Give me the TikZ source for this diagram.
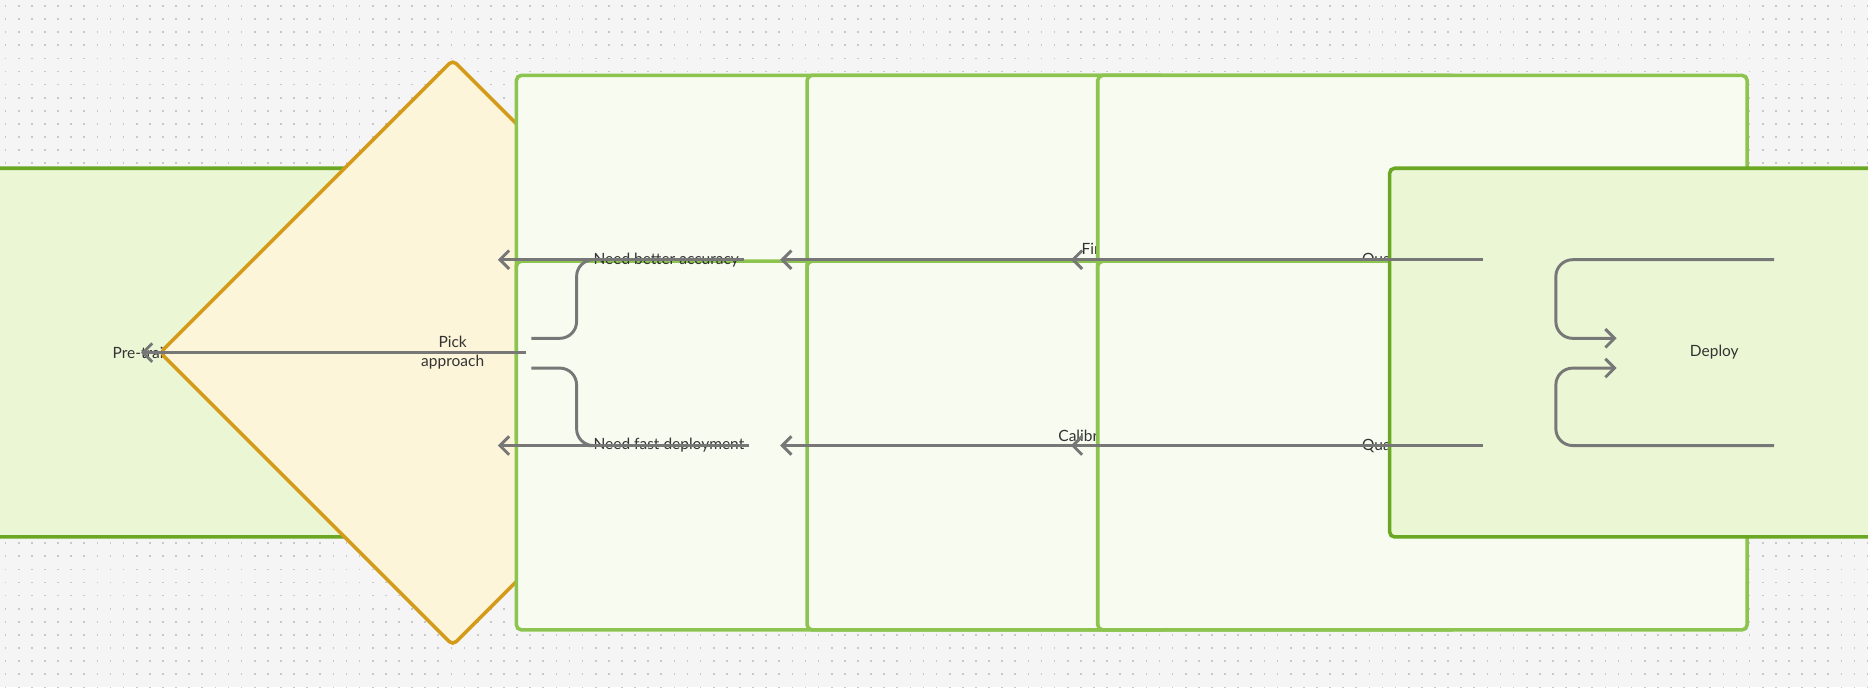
\documentclass[tikz,border=0pt]{standalone}
\usepackage{fontspec}
\setmainfont{Lato}
\usetikzlibrary{positioning,shapes.geometric,arrows.meta}

\definecolor{bgcol}{HTML}{F5F5F5}
\definecolor{dotcol}{HTML}{C8C8C8}
\definecolor{endfill}{HTML}{EBF7D4}
\definecolor{enddraw}{HTML}{6AA722}
\definecolor{stepfill}{HTML}{F7FBF0}
\definecolor{stepdraw}{HTML}{8DC450}
\definecolor{pickfill}{HTML}{FDF5D9}
\definecolor{pickdraw}{HTML}{D49B1A}
\definecolor{linkcol}{HTML}{777777}

\tikzset{
    base/.style={font=\fontsize{3.7}{4.6}\selectfont, text=black!80, align=center},
    endbox/.style={base, rectangle, rounded corners=1.2pt, fill=endfill, draw=enddraw, line width=0.85pt, minimum width=155, minimum height=88},
    stepbox/.style={base, rectangle, rounded corners=1.2pt, fill=stepfill, draw=stepdraw, line width=0.85pt, minimum width=155, minimum height=88},
    pick/.style={base, diamond, rounded corners=1.2pt, fill=pickfill, draw=pickdraw, line width=0.85pt, minimum width=140, minimum height=140, inner sep=0pt},
    link/.style={draw=linkcol, line width=0.7pt, rounded corners=4pt, -{Straight Barb[length=2.2pt, width=4.4pt, line width=0.7pt]}},
    wire/.style={draw=linkcol, line width=0.7pt, rounded corners=4pt},
    lbl/.style={base, inner sep=1pt},
    dots/.style={draw=dotcol, line width=0.4pt, dash pattern=on 0.4pt off 2.73pt}
}

\begin{document}
\begin{tikzpicture}[x=0.01cm, y=-0.01cm]
    \fill[bgcol] (0,0) rectangle (1568,577);
    \useasboundingbox (0,0) rectangle (1568,577);
    \foreach \y in {5,16,...,577}
        \draw[dots] (4,\y) -- (1568,\y);

    \node[endbox] at (146,296)(model) {Pre-trained model};
    \node[pick] at (380,296)(pick) {Pick\\approach};
    \node[stepbox] at (706,218)(qat) {QAT};
    \node[stepbox] at (706,374)(ptq) {PTQ};
    \node[stepbox] at (950,218)(tune) {Fine-tune with\\quantization ops};
    \node[stepbox] at (950,374)(calib) {Calibrate with sample\\data};
    \node[stepbox] at (1194,218)(quanta) {Quantize and test};
    \node[stepbox] at (1194,374)(quantb) {Quantize and test};
    \node[endbox] at (1439,296)(deploy) {Deploy};

    \node[lbl, anchor=west] at (494,218)(better) {Need better accuracy};
    \node[lbl, anchor=west] at (494,374)(fast) {Need fast deployment};

    \coordinate (pa) at (446,284);
    \coordinate (pb) at (446,309);
    \coordinate (da) at (1357,284);
    \coordinate (db) at (1357,309);

    \draw[link] ([xshift=6]model.east) -- ([xshift=-4]pick.west);
    \draw[wire] (pa) -| (484,218) -- (better.west);
    \draw[wire] (pb) -| (484,374) -- (fast.west);
    \draw[link] (better.east) -- ([xshift=-4]qat.west);
    \draw[link] (fast.east) -- ([xshift=-4]ptq.west);
    \draw[link] ([xshift=6]qat.east) -- ([xshift=-6]tune.west);
    \draw[link] ([xshift=6]ptq.east) -- ([xshift=-6]calib.west);
    \draw[link] ([xshift=6]tune.east) -- ([xshift=-6]quanta.west);
    \draw[link] ([xshift=6]calib.east) -- ([xshift=-6]quantb.west);
    \draw[link] ([xshift=6]quanta.east) -| (1306,284) -- (da);
    \draw[link] ([xshift=6]quantb.east) -| (1306,309) -- (db);
\end{tikzpicture}
\end{document}
